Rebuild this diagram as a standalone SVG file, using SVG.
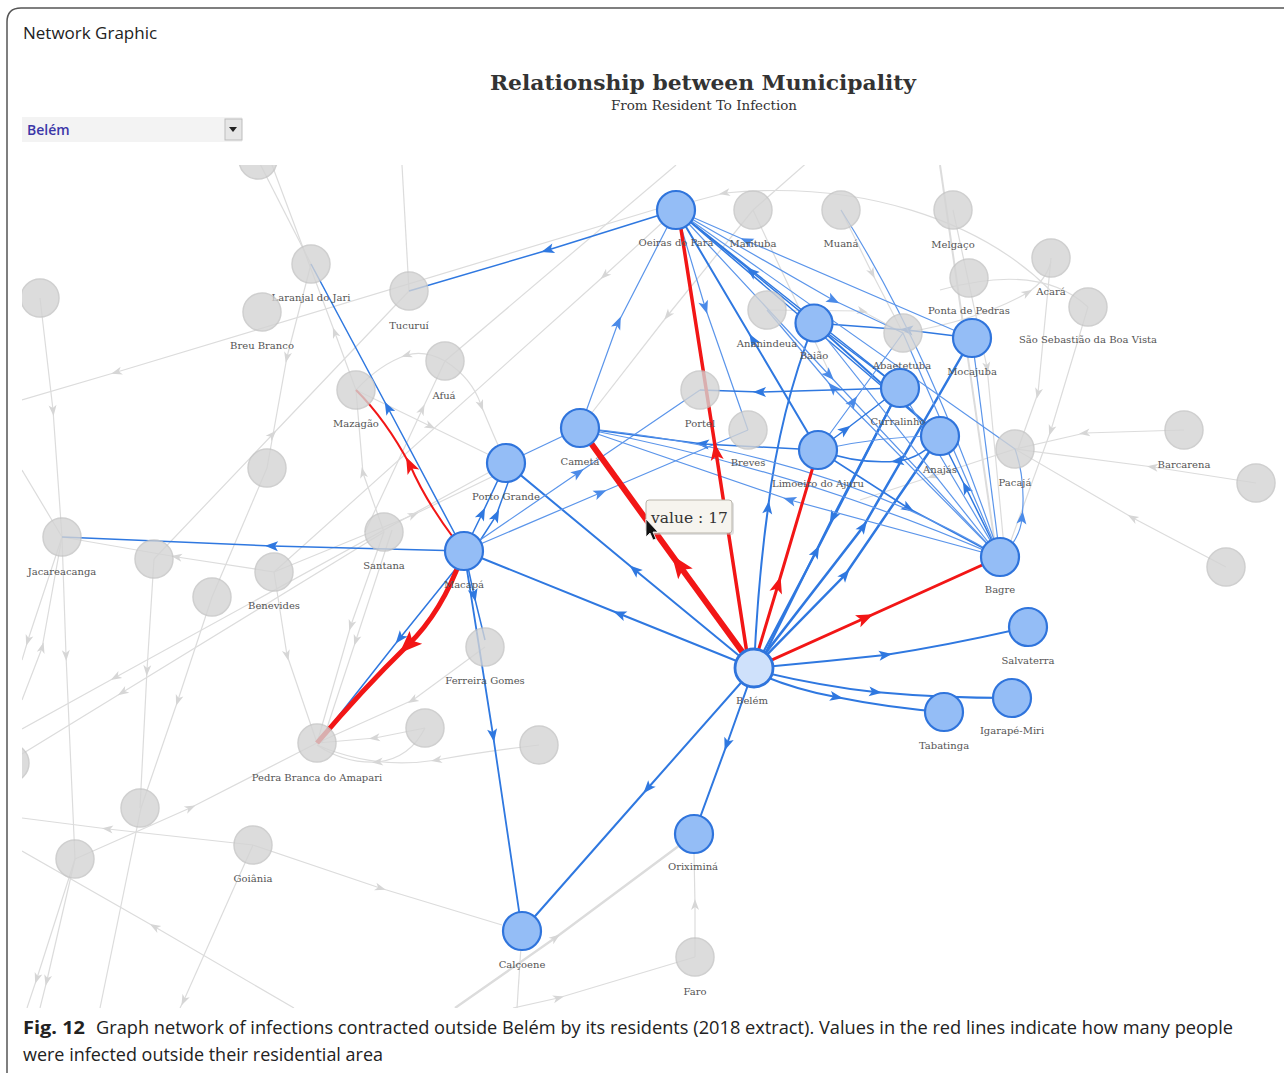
<svg xmlns="http://www.w3.org/2000/svg" width="1284" height="1073" viewBox="0 0 1284 1073">
<style>
.ge{fill:none;stroke:#dcdcdc;stroke-width:1.2;marker-mid:url(#ag)}
.be{fill:none;stroke:#2f78e0;stroke-width:2;marker-mid:url(#ab)}
.bt{fill:none;stroke:#5b95ea;stroke-width:1.2;marker-mid:url(#abt)}
.re{fill:none;stroke:#f21616;stroke-width:3;marker-mid:url(#ar)}
.gn{fill:#d4d4d4;stroke:#c4c4c4;stroke-width:1.5;opacity:0.8}
.bn{fill:#94bdf6;stroke:#2f74dc;stroke-width:2.2}
.lbl{font-family:"DejaVu Serif","Liberation Serif",serif;font-size:10px;fill:#555;text-anchor:middle}
</style>
<defs>
<clipPath id="clip"><rect x="22" y="165" width="1262" height="843"/></clipPath>
<marker id="ab" viewBox="-8 -6 16 12" markerWidth="16" markerHeight="12" orient="auto" markerUnits="userSpaceOnUse"><path d="M-6,-5 L7,0 L-6,5 L-3,0 z" fill="#2f78e0"/></marker>
<marker id="abt" viewBox="-8 -6 16 12" markerWidth="16" markerHeight="12" orient="auto" markerUnits="userSpaceOnUse"><path d="M-6,-5 L7,0 L-6,5 L-3,0 z" fill="#4a8ae8"/></marker>
<marker id="ar" viewBox="-10 -8 20 16" markerWidth="20" markerHeight="16" orient="auto" markerUnits="userSpaceOnUse"><path d="M-8,-6.5 L9,0 L-8,6.5 L-4,0 z" fill="#f21616"/></marker>
<marker id="arL" viewBox="-13 -10 26 20" markerWidth="26" markerHeight="20" orient="auto" markerUnits="userSpaceOnUse"><path d="M-11,-9 L12,0 L-11,9 L-6,0 z" fill="#f21616"/></marker>
<marker id="ag" viewBox="-7 -5 14 10" markerWidth="14" markerHeight="10" orient="auto" markerUnits="userSpaceOnUse"><path d="M-5,-4 L6,0 L-5,4 L-2,0 z" fill="#d6d6d6"/></marker>
</defs>
<rect width="1284" height="1073" fill="#fff"/>
<path d="M7,1073 L7,22 Q7,8 21,8 L1284,8" fill="none" stroke="#555" stroke-width="1.5"/>
<text x="23" y="39" font-family="'Open Sans','Noto Sans',sans-serif" font-size="17" fill="#222">Network Graphic</text>
<text x="703" y="90" text-anchor="middle" font-family="'DejaVu Serif','Liberation Serif',serif" font-weight="bold" font-size="20" fill="#333" textLength="426" lengthAdjust="spacingAndGlyphs">Relationship between Municipality</text>
<text x="704" y="110" text-anchor="middle" font-family="'DejaVu Serif','Liberation Serif',serif" font-size="12" fill="#333" textLength="186" lengthAdjust="spacingAndGlyphs">From Resident To Infection</text>
<g id="dropdown">
<rect x="22" y="117" width="220" height="25" fill="#f3f3f3"/>
<rect x="225" y="119" width="17" height="21" fill="#e6e6e6" stroke="#bdbdbd"/>
<path d="M229,127 L237,127 L233,132 z" fill="#222"/>
<text x="27" y="135" font-family="'Open Sans','Noto Sans',sans-serif" font-size="14" font-weight="600" fill="#3b36a8">Belém</text>
</g>
<g clip-path="url(#clip)">
<g id="connectors">
<g id="gray-edges">
<polyline class="ge" points="258,160 311,264"/>
<polyline class="ge" points="356,390 335,333 272,165"/>
<polyline class="ge" points="402,165 409,291"/>
<polyline class="ge" points="40,298 53,410 62,537"/>
<polyline class="ge" points="670,205 117,372 22,400"/>
<polyline class="ge" points="311,264 287,357 267,468"/>
<polyline class="ge" points="154,559 272,435 409,291"/>
<path class="ge" d="M445,361 Q425,350 407,355 Q380,364 356,390"/>
<path class="ge" d="M445,361 Q472,378 481,405 Q492,432 506,463"/>
<polyline class="ge" points="356,390 430,426 506,463"/>
<polyline class="ge" points="384,532 363,473 356,390"/>
<polyline class="ge" points="365,532 422,410 445,361"/>
<polyline class="ge" points="445,361 676,165"/>
<polyline class="ge" points="676,210 605,275 274,572"/>
<polyline class="ge" points="274,572 177,557 62,537"/>
<polyline class="ge" points="274,572 413,515 506,470"/>
<polyline class="ge" points="154,559 147,670 140,808"/>
<polyline class="ge" points="267,468 212,597"/>
<polyline class="ge" points="212,597 178,700 141,808"/>
<polyline class="ge" points="274,572 287,655 317,743"/>
<polyline class="ge" points="384,532 351,625 317,743"/>
<polyline class="ge" points="392,530 356,640 322,743"/>
<polyline class="ge" points="425,728 375,738 317,743"/>
<path class="ge" d="M539,745 Q480,752 437,760 Q375,770 317,745"/>
<path class="ge" d="M425,728 Q410,758 378,762 Q345,764 317,745"/>
<polyline class="ge" points="485,647 413,700 317,743"/>
<polyline class="ge" points="506,463 116,677 22,729"/>
<polyline class="ge" points="384,532 123,692 22,754"/>
<polyline class="ge" points="62,537 22,470"/>
<polyline class="ge" points="22,700 42,648 62,537"/>
<polyline class="ge" points="62,537 28,640 22,660"/>
<polyline class="ge" points="62,537 66,655 75,859"/>
<polyline class="ge" points="253,845 108,829 22,818"/>
<polyline class="ge" points="75,859 190,808 317,743"/>
<polyline class="ge" points="294,1008 155,927 22,851"/>
<polyline class="ge" points="75,859 37,978 27,1008"/>
<polyline class="ge" points="75,859 47,980 40,1008"/>
<polyline class="ge" points="141,808 100,1008"/>
<polyline class="ge" points="253,845 184,1000 180,1008"/>
<polyline class="ge" points="253,845 380,888 502,925"/>
<polyline class="ge" points="455,1008 555,938 680,845" style="stroke-width:2.4"/>
<polyline class="ge" points="513,1008 558,998 695,957"/>
<polyline class="ge" points="695,957 695,905 694,852"/>
<polyline class="ge" points="522,931 517,1008"/>
<polyline class="ge" points="1051,258 1038,393 1018,449"/>
<polyline class="ge" points="1088,307 1051,430 1005,557"/>
<polyline class="ge" points="1184,430 1085,433 1015,449"/>
<polyline class="ge" points="1256,483 1153,467 1015,449"/>
<polyline class="ge" points="1226,567 1133,518 1015,449"/>
<path class="ge" d="M1050,290 C980,220 860,180 725,193 L680,205"/>
<path class="ge" d="M903,333 Q980,320 1027,293 Q1045,282 1051,262"/>
<path class="ge" d="M940,290 Q1040,262 1088,307"/>
<polyline class="ge" points="940,165 995,545" style="stroke-width:2"/>
<polyline class="ge" points="953,210 987,367 1005,557"/>
<polyline class="ge" points="841,210 872,273 903,333"/>
<polyline class="ge" points="767,310 862,311 903,333"/>
<polyline class="ge" points="753,210 668,315 580,428"/>
<polyline class="ge" points="810,160 753,210"/>
<polyline class="ge" points="753,210 833,380"/>
<polyline class="ge" points="1015,449 933,476 860,500"/>
</g>
<g id="blue-edges">
<polyline class="be" points="754,668 620,614 464,551"/>
<polyline class="be" points="754,668 635,570 506,463"/>
<polyline class="be" points="754,668 648,788 522,931"/>
<polyline class="be" points="754,668 727,744 694,834"/>
<path class="be" d="M754,668 Q820,662 885,655 Q950,645 1028,627"/>
<path class="be" d="M754,670 Q820,686 875,692 Q940,698 1012,698"/>
<path class="be" d="M754,672 Q795,690 836,697 Q890,708 944,712"/>
<path class="be" d="M754,668 Q758,580 768,508 Q780,410 814,323"/>
<polyline class="be" points="756,666 816,552 900,388" style="stroke-width:2.2"/>
<polyline class="be" points="900,388 833,517 760,664" style="stroke-width:2.2"/>
<polyline class="be" points="754,668 845,575 940,436" style="stroke-width:2.5"/>
<polyline class="be" points="754,668 863,527 972,338" style="stroke-width:2.5"/>
<polyline class="be" points="464,551 272,546 62,537" style="stroke-width:1.5"/>
<polyline class="be" points="464,551 388,408 311,264" style="stroke-width:1.5"/>
<polyline class="be" points="458,566 400,638 318,742" style="stroke-width:1.5"/>
<polyline class="be" points="464,551 493,735 522,931" style="stroke-width:1.8"/>
<polyline class="be" points="466,558 474,595 485,640" style="stroke-width:1.5"/>
<polyline class="be" points="464,551 482,514 506,463" style="stroke-width:1.5"/>
<polyline class="be" points="472,553 496,516 514,466" style="stroke-width:1.5"/>
<polyline class="bt" points="464,551 578,473 700,390"/>
<polyline class="bt" points="464,551 600,493 748,430"/>
<polyline class="bt" points="506,463 580,428"/>
<polyline class="be" points="676,210 548,250 409,291" style="stroke-width:1.5"/>
<polyline class="bt" points="580,428 618,323 676,210"/>
<polyline class="bt" points="676,210 705,307 748,430"/>
<polyline class="bt" points="676,210 829,375 1000,557"/>
<polyline class="be" points="676,210 940,436" style="stroke-width:1.5"/>
<polyline class="be" points="676,210 900,388" style="stroke-width:1.5"/>
<polyline class="bt" points="676,210 833,300 903,333"/>
<polyline class="be" points="814,323 752,272 676,210" style="stroke-width:1.5"/>
<polyline class="bt" points="972,338 747,241 676,210"/>
<polyline class="be" points="818,450 753,340 676,210"/>
<polyline class="bt" points="1000,557 833,388 767,310"/>
<polyline class="be" points="972,338 907,330 814,323" style="stroke-width:1.5"/>
<polyline class="be" points="814,323 940,436"/>
<polyline class="bt" points="814,323 1000,557"/>
<polyline class="be" points="814,323 900,388" style="stroke-width:1.5"/>
<polyline class="bt" points="972,338 1000,557"/>
<polyline class="be" points="900,388 760,392 700,390" style="stroke-width:1.5"/>
<polyline class="be" points="818,450 845,430 900,388" style="stroke-width:1.5"/>
<polyline class="bt" points="900,388 1000,557"/>
<path class="be" d="M940,436 Q922,458 898,461 Q860,465 818,450" style="stroke-width:1.5"/>
<path class="bt" d="M818,450 Q880,436 940,436"/>
<polyline class="be" points="1000,557 966,488 940,436" style="stroke-width:1.5"/>
<polyline class="be" points="818,450 703,444 580,428" style="stroke-width:1.5"/>
<polyline class="be" points="818,450 908,508 1000,557" style="stroke-width:1.5"/>
<polyline class="bt" points="818,450 853,402 903,333"/>
<polyline class="bt" points="1000,557 790,500 580,428"/>
<path class="bt" d="M580,428 Q800,470 1000,557"/>
<path class="bt" d="M580,428 Q820,450 1000,557"/>
<polyline class="bt" points="1000,557 903,333"/>
<path class="bt" d="M841,210 Q930,350 1000,557"/>
<path class="bt" d="M1000,557 Q1020,540 1022,518 Q1026,480 1015,449"/>
<polyline class="bt" points="676,210 1015,449"/>
</g>
<g id="red-edges">
<polyline class="re" points="754,668 679,565 580,428" style="stroke-width:6;marker-mid:url(#arL)"/>
<polyline class="re" points="748,660 716,452 678,210" style="stroke-width:3.5"/>
<polyline class="re" points="757,655 778,585 818,450"/>
<polyline class="re" points="754,668 865,618 1000,557"/>
<path class="re" d="M462,556 Q442,612 408,645 Q362,690 317,743" style="stroke-width:5;marker-mid:url(#arL)"/>
<path class="re" d="M455,540 Q425,500 410,465 Q386,420 356,390" style="stroke-width:2"/>
</g>
</g>
<g id="gray-nodes">
<g id="n-top"><circle class="gn" cx="258" cy="160" r="19"/></g>
<g id="n-laranjal"><circle class="gn" cx="311" cy="264" r="19"/><text class="lbl" x="311" y="301">Laranjal do Jari</text></g>
<g id="n-breu"><circle class="gn" cx="262" cy="312" r="19"/><text class="lbl" x="262" y="349">Breu Branco</text></g>
<g id="n-tucurui"><circle class="gn" cx="409" cy="291" r="19"/><text class="lbl" x="409" y="329">Tucuruí</text></g>
<g id="n-g40"><circle class="gn" cx="40" cy="298" r="19"/></g>
<g id="n-afua"><circle class="gn" cx="445" cy="361" r="19"/><text class="lbl" x="444" y="399">Afuá</text></g>
<g id="n-mazagao"><circle class="gn" cx="356" cy="390" r="19"/><text class="lbl" x="356" y="427">Mazagão</text></g>
<g id="n-g267"><circle class="gn" cx="267" cy="468" r="19"/></g>
<g id="n-jacareacanga"><circle class="gn" cx="62" cy="537" r="19"/><text class="lbl" x="62" y="575">Jacareacanga</text></g>
<g id="n-g154"><circle class="gn" cx="154" cy="559" r="19"/></g>
<g id="n-benevides"><circle class="gn" cx="274" cy="572" r="19"/><text class="lbl" x="274" y="609">Benevides</text></g>
<g id="n-g212"><circle class="gn" cx="212" cy="597" r="19"/></g>
<g id="n-santana"><circle class="gn" cx="384" cy="532" r="19"/><text class="lbl" x="384" y="569">Santana</text></g>
<g id="n-ferreira"><circle class="gn" cx="485" cy="647" r="19"/><text class="lbl" x="485" y="684">Ferreira Gomes</text></g>
<g id="n-g425"><circle class="gn" cx="425" cy="728" r="19"/></g>
<g id="n-g539"><circle class="gn" cx="539" cy="745" r="19"/></g>
<g id="n-pedra"><circle class="gn" cx="317" cy="743" r="19"/><text class="lbl" x="317" y="781">Pedra Branca do Amapari</text></g>
<g id="n-g140"><circle class="gn" cx="140" cy="808" r="19"/></g>
<g id="n-g75"><circle class="gn" cx="75" cy="859" r="19"/></g>
<g id="n-goiania"><circle class="gn" cx="253" cy="845" r="19"/><text class="lbl" x="253" y="882">Goiânia</text></g>
<g id="n-g10"><circle class="gn" cx="10" cy="763" r="19"/></g>
<g id="n-faro"><circle class="gn" cx="695" cy="957" r="19"/><text class="lbl" x="695" y="995">Faro</text></g>
<g id="n-marituba"><circle class="gn" cx="753" cy="210" r="19"/><text class="lbl" x="753" y="247">Marituba</text></g>
<g id="n-muana"><circle class="gn" cx="841" cy="210" r="19"/><text class="lbl" x="841" y="247">Muaná</text></g>
<g id="n-melgaco"><circle class="gn" cx="953" cy="210" r="19"/><text class="lbl" x="953" y="248">Melgaço</text></g>
<g id="n-ponta"><circle class="gn" cx="969" cy="278" r="19"/><text class="lbl" x="969" y="314">Ponta de Pedras</text></g>
<g id="n-acara"><circle class="gn" cx="1051" cy="258" r="19"/><text class="lbl" x="1051" y="295">Acará</text></g>
<g id="n-saosebastiao"><circle class="gn" cx="1088" cy="307" r="19"/><text class="lbl" x="1088" y="343">São Sebastião da Boa Vista</text></g>
<g id="n-ananindeua"><circle class="gn" cx="767" cy="310" r="19"/><text class="lbl" x="767" y="347">Ananindeua</text></g>
<g id="n-abaetetuba"><circle class="gn" cx="903" cy="333" r="19"/><text class="lbl" x="902" y="369">Abaetetuba</text></g>
<g id="n-portel"><circle class="gn" cx="700" cy="390" r="19"/><text class="lbl" x="700" y="427">Portel</text></g>
<g id="n-breves"><circle class="gn" cx="748" cy="430" r="19"/><text class="lbl" x="748" y="466">Breves</text></g>
<g id="n-pacaja"><circle class="gn" cx="1015" cy="449" r="19"/><text class="lbl" x="1015" y="486">Pacajá</text></g>
<g id="n-barcarena"><circle class="gn" cx="1184" cy="430" r="19"/><text class="lbl" x="1184" y="468">Barcarena</text></g>
<g id="n-g1256"><circle class="gn" cx="1256" cy="483" r="19"/></g>
<g id="n-g1226"><circle class="gn" cx="1226" cy="567" r="19"/></g>
</g>
<g id="blue-nodes">
<g id="n-oeiras"><circle class="bn" cx="676" cy="210" r="19"/><text class="lbl" x="676" y="246">Oeiras do Pará</text></g>
<g id="n-baiao"><circle class="bn" cx="814" cy="323" r="18.5"/><text class="lbl" x="814" y="359">Baião</text></g>
<g id="n-mocajuba"><circle class="bn" cx="972" cy="338" r="19"/><text class="lbl" x="972" y="375">Mocajuba</text></g>
<g id="n-curralinho"><circle class="bn" cx="900" cy="388" r="19"/><text class="lbl" x="898" y="425">Curralinho</text></g>
<g id="n-anajas"><circle class="bn" cx="940" cy="436" r="19"/><text class="lbl" x="940" y="473">Anajás</text></g>
<g id="n-limoeiro"><circle class="bn" cx="818" cy="450" r="19"/><text class="lbl" x="818" y="487">Limoeiro do Ajuru</text></g>
<g id="n-cameta"><circle class="bn" cx="580" cy="428" r="19"/><text class="lbl" x="580" y="465">Cametá</text></g>
<g id="n-portogrande"><circle class="bn" cx="506" cy="463" r="19"/><text class="lbl" x="506" y="500">Porto Grande</text></g>
<g id="n-macapa"><circle class="bn" cx="464" cy="551" r="19"/><text class="lbl" x="464" y="588">Macapá</text></g>
<g id="n-bagre"><circle class="bn" cx="1000" cy="557" r="19"/><text class="lbl" x="1000" y="593">Bagre</text></g>
<g id="n-salvaterra"><circle class="bn" cx="1028" cy="627" r="19"/><text class="lbl" x="1028" y="664">Salvaterra</text></g>
<g id="n-igarape"><circle class="bn" cx="1012" cy="698" r="19"/><text class="lbl" x="1012" y="734">Igarapé-Miri</text></g>
<g id="n-tabatinga"><circle class="bn" cx="944" cy="712" r="19"/><text class="lbl" x="944" y="749">Tabatinga</text></g>
<g id="n-belem"><circle class="bn" cx="754" cy="668" r="19" style="fill:#cfe1fb;stroke-width:2.8"/><text class="lbl" x="752" y="704">Belém</text></g>
<g id="n-oriximina"><circle class="bn" cx="694" cy="834" r="19"/><text class="lbl" x="693" y="870">Oriximiná</text></g>
<g id="n-calcoene"><circle class="bn" cx="522" cy="931" r="19"/><text class="lbl" x="522" y="968">Calçoene</text></g>
</g>
<g id="tooltip">
<rect x="648" y="502" width="86" height="33" rx="3" fill="#bbb" opacity="0.45"/>
<rect x="646" y="500" width="86" height="33" rx="3" fill="#f6f4ee" stroke="#b9b5ab"/>
<text x="651" y="523" font-family="'DejaVu Serif','Liberation Serif',serif" font-size="15.5" fill="#333">value : 17</text>
<path d="M646,519 L646,537 L650,533 L653,540 L656,539 L653,532 L658,532 z" fill="#111" stroke="#fff" stroke-width="0.8"/>
</g>
</g>
<g id="caption" font-family="'Open Sans','Noto Sans',sans-serif" font-size="18" fill="#222">
<text x="23" y="1034" font-weight="bold" textLength="62" lengthAdjust="spacingAndGlyphs">Fig. 12</text>
<text x="96" y="1034" textLength="1137" lengthAdjust="spacingAndGlyphs">Graph network of infections contracted outside Belém by its residents (2018 extract). Values in the red lines indicate how many people</text>
<text x="23" y="1061" textLength="360" lengthAdjust="spacingAndGlyphs">were infected outside their residential area</text>
</g>
</svg>
